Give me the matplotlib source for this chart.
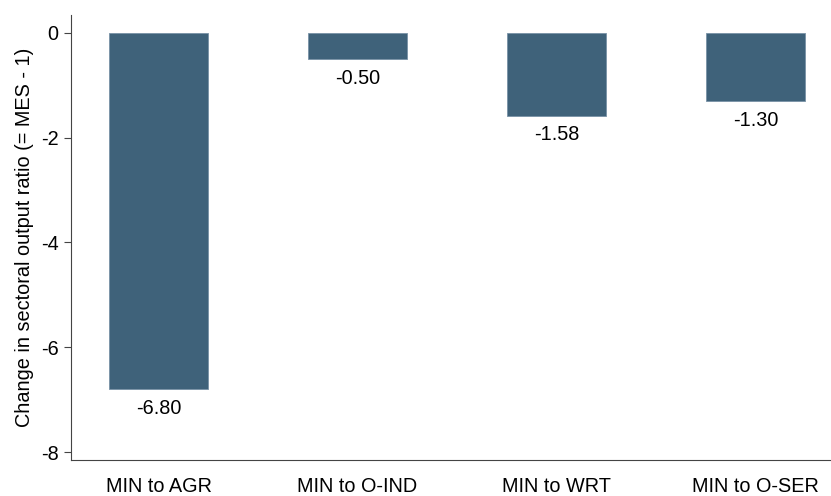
import matplotlib.pyplot as plt
import numpy as np

plt.rcParams['font.family'] = ['Liberation Sans', 'DejaVu Sans']

categories = ['MIN to AGR', 'MIN to O-IND', 'MIN to WRT', 'MIN to O-SER']
values = [-6.80, -0.50, -1.58, -1.30]

fig = plt.figure(figsize=(8.31, 4.96), dpi=100)
ax = fig.add_axes([0.0854, 0.0726, 0.9146, 0.8974])

x = np.arange(len(categories))
ax.bar(x, values, width=0.5, color='#3F627A', edgecolor='#7891a6', linewidth=0.6)

for xi, v in zip(x, values):
    ax.annotate(f'{v:.2f}', (xi, v), xytext=(0, -7), textcoords='offset points',
                ha='center', va='top', fontsize=14.3)

ax.set_xlim(-0.44, 3.38)
ax.set_ylim(-8.15, 0.34)
ax.set_yticks([0, -2, -4, -6, -8])
ax.set_yticklabels(['0', '-2', '-4', '-6', '-8'])
ax.set_xticks(x)
ax.set_xticklabels(categories)
ax.tick_params(axis='x', length=0, labelsize=14.3, pad=12)
ax.tick_params(axis='y', length=5, labelsize=14.3, color='#444444', pad=4)
ax.set_ylabel('Change in sectoral output ratio (= MES - 1)', fontsize=14.3, labelpad=5)

for s in ['top', 'right']:
    ax.spines[s].set_visible(False)
for s in ['left', 'bottom']:
    ax.spines[s].set_color('#444444')
    ax.spines[s].set_linewidth(0.8)

fig.savefig('out.png', dpi=100)
